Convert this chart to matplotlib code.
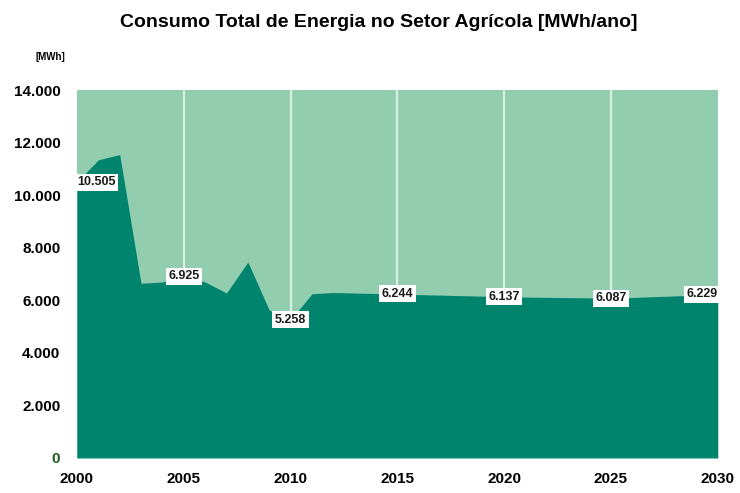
"""Consumo total de energia no setor agrícola, 2000-2030 (area chart)."""

import matplotlib
matplotlib.use("Agg")

import matplotlib.pyplot as plt
from matplotlib.ticker import FuncFormatter

years = list(range(2000, 2031))
consumo = [10505, 11350, 11550, 6650, 6700, 6925, 6700, 6280, 7460, 5630,
           5258, 6250, 6300, 6280, 6260, 6244, 6220, 6200, 6180, 6160,
           6137, 6125, 6115, 6105, 6095, 6087, 6110, 6140, 6170, 6200,
           6229]
label_years = [2000, 2005, 2010, 2015, 2020, 2025, 2030]
y_ticks = [0, 2000, 4000, 6000, 8000, 10000, 12000, 14000]

DARK = "#00846d"
LIGHT = "#92cdb0"

plt.rcParams["font.family"] = ["Liberation Sans", "DejaVu Sans"]

fig = plt.figure(figsize=(7.4, 4.93), dpi=100)
ax = fig.add_axes([0.104, 0.071, 0.866, 0.746])
ax.set_facecolor(LIGHT)

ax.fill_between(years, consumo, 0, color=DARK, linewidth=0, zorder=2)

for yr in label_years[1:-1]:
    ax.axvline(yr, color="#d9f0e4", linewidth=1.6, zorder=1)

for yr in label_years:
    v = consumo[years.index(yr)]
    txt = f"{v:,}".replace(",", ".")
    ha = "center"
    if yr == 2000:
        ha = "left"
    elif yr == 2030:
        ha = "right"
    ax.text(yr, v, txt, ha=ha, va="center", fontsize=9, fontweight="bold",
            color="#1a1a1a", zorder=4,
            bbox=dict(boxstyle="square,pad=0.2", fc="white", ec="none"))

ax.set_xlim(2000, 2030)
ax.set_ylim(0, 14000)
ax.set_xticks(label_years)
ax.set_yticks(y_ticks)
ax.yaxis.set_major_formatter(FuncFormatter(lambda v, _: f"{int(v):,}".replace(",", ".")))
ax.tick_params(length=0, labelsize=11)
ax.tick_params(axis="x", pad=10)
ax.tick_params(axis="y", pad=12)
for lbl in ax.get_xticklabels() + ax.get_yticklabels():
    lbl.set_fontweight("bold")
ax.get_yticklabels()[0].set_color("#1f5a1f")
for s in ax.spines.values():
    s.set_visible(False)

fig.text(0.512, 0.955, "Consumo Total de Energia no Setor Agrícola [MWh/ano]",
         ha="center", va="center", fontsize=14, fontweight="bold")
fig.text(0.068, 0.884, "[MWh]", ha="center", va="center", fontsize=7,
         fontweight="bold")

fig.savefig("out.png", dpi=100)
